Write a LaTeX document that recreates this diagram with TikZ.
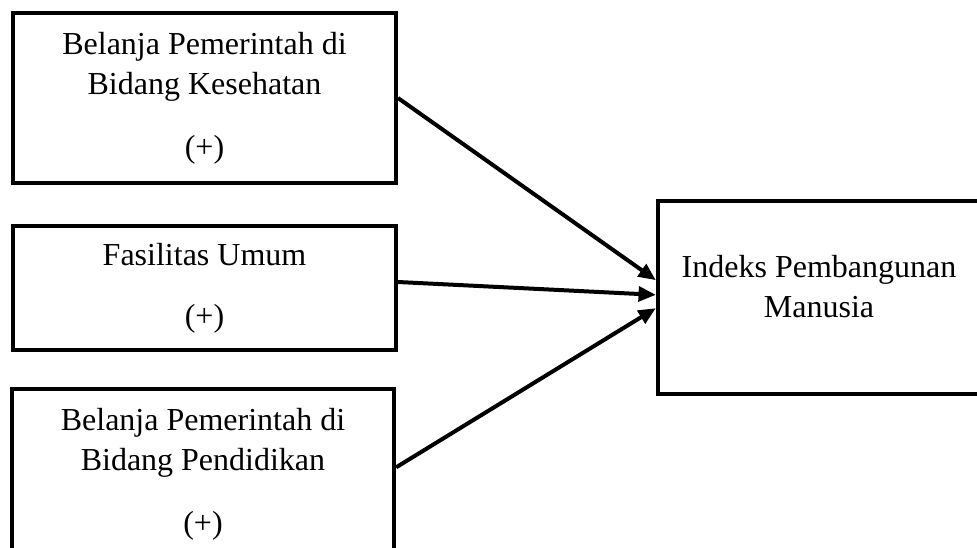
\documentclass[tikz,border=0pt]{standalone}
\usepackage{fontspec}
\setmainfont{Liberation Serif}
\usetikzlibrary{arrows.meta}
\begin{document}
\begin{tikzpicture}[x=0.75pt,y=-0.75pt,
  kotak/.style={draw, line width=3.2pt, align=center, inner sep=0pt, font=\fontsize{24}{30}\selectfont},
  panah/.style={-{Triangle[length=13pt,width=11pt]}, line width=3pt}]
\useasboundingbox (0,0) rectangle (977,548);
\clip (0,0) rectangle (977,548);
\node[kotak, minimum width=287pt, minimum height=127.5pt] (bk) at (204.5,98){Belanja Pemerintah di\\Bidang Kesehatan\\[17pt](+)};
\node[kotak, minimum width=287pt, minimum height=93pt] (fu) at (204.5,288){Fasilitas Umum\\[16pt](+)};
\node[kotak, minimum width=286.5pt, minimum height=127.5pt] (bp) at (203,474){Belanja Pemerintah di\\Bidang Pendidikan\\[17pt](+)};
\node[kotak, minimum width=241.5pt, minimum height=145pt, text depth=17pt] (ipm) at (819,297.5){Indeks Pembangunan\\Manusia};
\draw[panah] (bk.east) -- ([yshift=13pt]ipm.west);
\draw[panah] ([yshift=4.5pt]fu.east) -- ([yshift=2pt]ipm.west);
\draw[panah] ([yshift=5pt]bp.east) -- ([yshift=-8pt]ipm.west);

\end{tikzpicture}
\end{document}
